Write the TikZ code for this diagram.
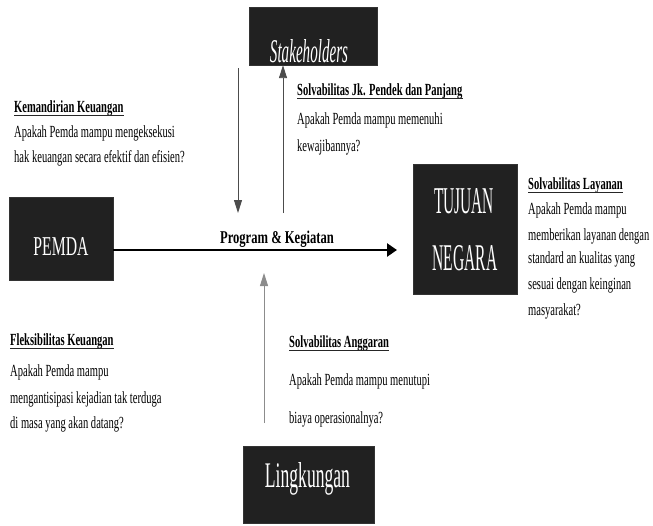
\documentclass[tikz,border=0pt]{standalone}
\usepackage{fontspec}
\usepackage{graphicx}
\setmainfont{Liberation Serif}
\newfontfamily\bodyf[FakeStretch=0.62]{Liberation Serif}
\newfontfamily\progf[FakeStretch=0.70]{Liberation Serif}
\usetikzlibrary{arrows.meta}
\tikzset{
  darkbox/.style={fill=black!87, draw=black!80, line width=0.3pt, inner sep=0pt, text=white},
  body/.style={anchor=base west, inner sep=0pt, font=\bodyf\fontsize{17}{19}\selectfont},
  ttl/.style={anchor=base west, inner sep=0pt, font=\bodyf\bfseries\fontsize{17}{19}\selectfont},
  thin/.style={draw=black!70, line width=0.9pt, -{Triangle[length=13pt,width=8pt]}},
  uline/.style={line width=1.6pt, black!85},
}
\newcommand{\ul}[1]{\draw[uline] ([yshift=-3.5pt]#1.base west) -- ([yshift=-3.5pt]#1.base east);}
\begin{document}
\begin{tikzpicture}[x=1pt,y=-1pt]
\useasboundingbox (0,0) rectangle (653,525);
% boxes
\node[darkbox, minimum width=128pt, minimum height=58pt] (stake) at (313,36) {};
\node[text=white, anchor=base] (staket) at (309,62) {\resizebox{78pt}{23pt}{\itshape Stakeholders}};
\node[darkbox, minimum width=104pt, minimum height=83pt] (pemda) at (61,239) {};
\node[text=white, anchor=base] (pemdat) at (61,255) {\resizebox{55pt}{18pt}{PEMDA}};
\node[darkbox, minimum width=104pt, minimum height=130pt] (tujuan) at (465,229) {};
\node[text=white, anchor=base] (tujt1) at (464,213) {\resizebox{60pt}{25pt}{TUJUAN}};
\node[text=white, anchor=base] (tujt2) at (465,270) {\resizebox{65pt}{25pt}{NEGARA}};
\node[darkbox, minimum width=131pt, minimum height=77pt] (ling) at (308.5,484.5) {};
\node[text=white, anchor=base] (lingt) at (307.5,487) {\resizebox{85pt}{25pt}{Lingkungan}};
% connectors
\coordinate (mainend) at (397,250);
\draw[line width=2.6pt, -{Triangle[length=10pt,width=13pt]}] (pemda.east |- mainend) -- (mainend);
\coordinate (dtop) at (238,68);
\coordinate (dbot) at (238,213);
\draw[thin] (dtop) -- (dbot);
\coordinate (ubot) at (283,213);
\draw[thin] (ubot) -- (ubot |- stake.south);
\coordinate (lbot) at (264,423);
\coordinate (ltop) at (264,273);
\draw[thin, draw=black!45] (lbot) -- (ltop);
% center label
\node[anchor=base, inner sep=0pt, font=\progf\bfseries\fontsize{18}{20}\selectfont] (prog) at (277,243) {Program \& Kegiatan};
% texts
\node[ttl] (t1) at (14,112) {Kemandirian Keuangan}; \ul{t1}
\node[body] (t1a) at (14,137) {Apakah Pemda mampu mengeksekusi};
\node[body] (t1b) at (14,162) {hak keuangan secara efektif dan efisien?};

\node[ttl] (t2) at (297,95) {Solvabilitas Jk. Pendek dan Panjang}; \ul{t2}
\node[body] (t2a) at (297,124) {Apakah Pemda mampu memenuhi};
\node[body] (t2b) at (297,151) {kewajibannya?};

\node[ttl] (t3) at (528,189) {Solvabilitas Layanan}; \ul{t3}
\node[body] (t3a) at (528,214) {Apakah Pemda mampu};
\node[body] (t3b) at (528,240) {memberikan layanan dengan};
\node[body] (t3c) at (528,263) {standard an kualitas yang};
\node[body] (t3d) at (528,289) {sesuai dengan keinginan};
\node[body] (t3e) at (528,315) {masyarakat?};

\node[ttl] (t4) at (10,345) {Fleksibilitas Keuangan}; \ul{t4}
\node[body] (t4a) at (10,376) {Apakah Pemda mampu};
\node[body] (t4b) at (10,403) {mengantisipasi kejadian tak terduga};
\node[body] (t4c) at (10,428) {di masa yang akan datang?};

\node[ttl] (t5) at (289,347) {Solvabilitas Anggaran}; \ul{t5}
\node[body] (t5a) at (289,385) {Apakah Pemda mampu menutupi};
\node[body] (t5b) at (289,423) {biaya operasionalnya?};
\end{tikzpicture}
\end{document}
